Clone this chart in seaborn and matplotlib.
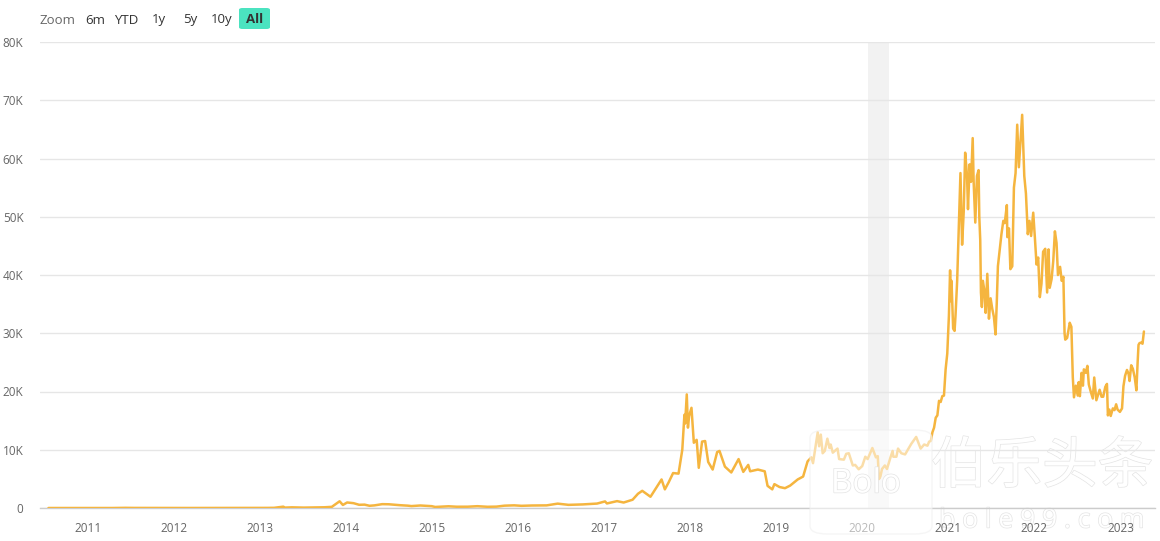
import numpy as np
import pandas as pd
import matplotlib
matplotlib.use("Agg")
import matplotlib.pyplot as plt
import matplotlib.patheffects as pe
from matplotlib.patches import FancyBboxPatch
import seaborn as sns

# ---------------- data ----------------
dates_2010_2016 = [
    "2010-07-17", "2010-10-01", "2011-01-01", "2011-02-10", "2011-04-15", "2011-06-08",
    "2011-07-15", "2011-10-20", "2011-12-31", "2012-03-01", "2012-06-01", "2012-08-17",
    "2012-12-31", "2013-02-01", "2013-03-01", "2013-04-09", "2013-04-16", "2013-05-15",
    "2013-07-05", "2013-08-15", "2013-10-01", "2013-11-01", "2013-11-18", "2013-12-04",
    "2013-12-18", "2014-01-05", "2014-02-01", "2014-02-25", "2014-03-20", "2014-04-10",
    "2014-05-01", "2014-06-03", "2014-07-01", "2014-08-18", "2014-09-20", "2014-10-05",
    "2014-11-12", "2014-12-30", "2015-01-14", "2015-02-15", "2015-03-12", "2015-04-15",
    "2015-06-01", "2015-07-12", "2015-08-24", "2015-10-01", "2015-11-04", "2015-12-15",
    "2016-01-15", "2016-03-01", "2016-05-01", "2016-06-17", "2016-08-02", "2016-10-01",
    "2016-12-01",
]
prices_2010_2016 = [
    0.05, 0.06, 0.3, 1.0, 1.0, 29,
    14, 2.5, 4.7, 5, 5.3, 13,
    13.5, 20, 33, 230, 70, 115,
    70, 100, 125, 200, 700, 1150,
    520, 950, 830, 550, 580, 380,
    450, 660, 640, 480, 400, 330,
    430, 315, 180, 235, 295, 220,
    225, 310, 210, 237, 400, 455,
    375, 430, 450, 750, 540, 615,
    760,
]
dates_2017_2020 = [
    "2017-01-04", "2017-01-12", "2017-02-24", "2017-03-24", "2017-05-01", "2017-05-24",
    "2017-06-11", "2017-07-16", "2017-08-05", "2017-09-01", "2017-09-15", "2017-10-01",
    "2017-10-20", "2017-11-12", "2017-11-28", "2017-12-07", "2017-12-10", "2017-12-17",
    "2017-12-22", "2017-12-27", "2018-01-06", "2018-01-16", "2018-01-28", "2018-02-06",
    "2018-02-20", "2018-03-05", "2018-03-18", "2018-04-06", "2018-04-25", "2018-05-05",
    "2018-05-28", "2018-06-24", "2018-07-25", "2018-08-14", "2018-09-04", "2018-09-12",
    "2018-10-15", "2018-11-13", "2018-11-25", "2018-12-15", "2018-12-24", "2019-01-15",
    "2019-02-07", "2019-03-01", "2019-04-02", "2019-04-25", "2019-05-14", "2019-05-30",
    "2019-06-06", "2019-06-26", "2019-07-02", "2019-07-09", "2019-07-17", "2019-07-26",
    "2019-08-06", "2019-08-15", "2019-08-20", "2019-08-29", "2019-09-18", "2019-09-25",
    "2019-10-15", "2019-10-25", "2019-11-05", "2019-11-22", "2019-12-02", "2019-12-17",
    "2020-01-01", "2020-01-14", "2020-01-24", "2020-02-13", "2020-02-28", "2020-03-07",
    "2020-03-12", "2020-03-18", "2020-03-25", "2020-04-06", "2020-04-15", "2020-04-30",
    "2020-05-09", "2020-05-12", "2020-05-25", "2020-06-01", "2020-06-15", "2020-07-01",
    "2020-07-27", "2020-08-17", "2020-09-05", "2020-09-20", "2020-10-04",
]
prices_2017_2020 = [
    1130, 780, 1180, 940, 1420, 2450,
    2950, 1930, 3200, 4900, 3200, 4400,
    6000, 5900, 10000, 16000, 14500, 19500,
    13800, 15800, 17200, 11200, 11700, 6900,
    11400, 11500, 7900, 6600, 9600, 9800,
    7100, 6100, 8400, 6200, 7400, 6300,
    6600, 6300, 3800, 3200, 4100, 3600,
    3400, 3850, 4900, 5400, 8000, 8700,
    7700, 13000, 10600, 12600, 9400, 9800,
    11900, 10300, 10900, 9500, 10200, 8400,
    8300, 9300, 9400, 7300, 7400, 6650,
    7200, 8800, 8400, 10300, 8700, 8900,
    4970, 5400, 6700, 7300, 6700, 8700,
    9800, 8800, 8800, 10200, 9400, 9200,
    11000, 12200, 10200, 10900, 10700,
]
dates_2020_2023 = [
    "2020-10-11", "2020-10-18", "2020-10-25", "2020-11-01", "2020-11-08", "2020-11-15",
    "2020-11-22", "2020-11-29", "2020-12-06", "2020-12-13", "2020-12-20", "2020-12-27",
    "2021-01-03", "2021-01-08", "2021-01-11", "2021-01-14", "2021-01-21", "2021-01-27",
    "2021-01-31", "2021-02-07", "2021-02-14", "2021-02-21", "2021-02-28", "2021-03-07",
    "2021-03-13", "2021-03-21", "2021-03-25", "2021-04-01", "2021-04-07", "2021-04-14",
    "2021-04-18", "2021-04-25", "2021-05-02", "2021-05-09", "2021-05-12", "2021-05-16",
    "2021-05-19", "2021-05-23", "2021-05-27", "2021-06-02", "2021-06-08", "2021-06-15",
    "2021-06-22", "2021-06-29", "2021-07-06", "2021-07-13", "2021-07-20", "2021-07-25",
    "2021-07-30", "2021-08-07", "2021-08-14", "2021-08-22", "2021-08-28", "2021-09-06",
    "2021-09-08", "2021-09-15", "2021-09-21", "2021-09-29", "2021-10-06", "2021-10-13",
    "2021-10-20", "2021-10-27", "2021-11-03", "2021-11-10", "2021-11-16", "2021-11-19",
    "2021-11-26", "2021-12-04", "2021-12-11", "2021-12-18", "2021-12-27", "2022-01-03",
    "2022-01-10", "2022-01-17", "2022-01-24", "2022-01-31", "2022-02-07", "2022-02-16",
    "2022-02-24", "2022-03-02", "2022-03-07", "2022-03-15", "2022-03-22", "2022-03-29",
    "2022-04-05", "2022-04-11", "2022-04-20", "2022-04-27", "2022-05-04", "2022-05-09",
    "2022-05-12", "2022-05-20", "2022-05-31", "2022-06-07", "2022-06-13", "2022-06-18",
    "2022-06-26", "2022-07-04", "2022-07-08", "2022-07-13", "2022-07-20", "2022-07-26",
    "2022-07-30", "2022-08-07", "2022-08-14", "2022-08-20", "2022-08-28", "2022-09-06",
    "2022-09-12", "2022-09-21", "2022-09-28", "2022-10-05", "2022-10-13", "2022-10-20",
    "2022-10-29", "2022-11-05", "2022-11-09", "2022-11-15", "2022-11-21", "2022-11-30",
    "2022-12-07", "2022-12-14", "2022-12-20", "2022-12-30", "2023-01-08", "2023-01-14",
    "2023-01-21", "2023-01-29", "2023-02-05", "2023-02-09", "2023-02-16", "2023-02-23",
    "2023-03-03", "2023-03-10", "2023-03-15", "2023-03-19", "2023-03-23", "2023-03-30",
    "2023-04-05", "2023-04-11",
]
prices_2020_2023 = [
    11400, 11500, 13000, 13800, 15500, 15900,
    18400, 18200, 19200, 19300, 23800, 26500,
    33000, 40800, 35500, 39000, 30800, 30400,
    33000, 39000, 48000, 57500, 45200, 51000,
    61000, 57000, 51300, 59000, 56000, 63500,
    56000, 49000, 57000, 58000, 50000, 46000,
    37000, 34500, 39000, 37500, 33500, 40200,
    32500, 36000, 34200, 32800, 29800, 35000,
    41500, 44500, 47000, 49300, 48900, 52000,
    46500, 48000, 41000, 41500, 55000, 57500,
    65800, 58500, 62900, 67500, 60300, 57000,
    54000, 47000, 49300, 46700, 50700, 46400,
    41800, 43000, 36200, 38500, 44000, 44500,
    37000, 44400, 37800, 39300, 42400, 47500,
    45500, 40000, 41400, 39000, 39700, 30000,
    28900, 29200, 31800, 31100, 22400, 19000,
    21000, 19300, 21600, 19200, 23200, 21000,
    23800, 23200, 24400, 21200, 20000, 18800,
    22400, 18500, 19400, 20300, 19100, 19100,
    20800, 21300, 15900, 16900, 15800, 17100,
    16800, 17800, 16900, 16500, 17100, 20900,
    22700, 23700, 23000, 21800, 24500, 23900,
    22400, 20200, 24800, 28000, 28300, 28400,
    28200, 30300,
]
band_start, band_end = "2020-01-26", "2020-04-22"
y_ticks = [0, 10000, 20000, 30000, 40000, 50000, 60000, 70000, 80000]
y_labels = ["0", "10K", "20K", "30K", "40K", "50K", "60K", "70K", "80K"]
x_years = list(range(2011, 2024))
buttons = ["6m", "YTD", "1y", "5y", "10y"]

dates = dates_2010_2016 + dates_2017_2020 + dates_2020_2023
prices = prices_2010_2016 + prices_2017_2020 + prices_2020_2023
assert len(dates) == len(prices)
df = pd.DataFrame({"date": pd.to_datetime(dates), "price": prices}).sort_values("date")

# ---------------- figure ----------------
sns.set_theme(style="white")
plt.rcParams["font.family"] = ["Open Sans", "Noto Sans CJK SC", "DejaVu Sans"]

W, H = 1160, 541
fig = plt.figure(figsize=(W / 100, H / 100), dpi=100)
fig.patch.set_facecolor("white")
L, R, T, B = 40, 1155, 42, 508
ax = fig.add_axes([L / W, 1 - B / H, (R - L) / W, (B - T) / H])
ax.set_zorder(2)
ax.patch.set_alpha(0)

ax.axvspan(pd.Timestamp(band_start), pd.Timestamp(band_end), color="#f2f2f2", zorder=0, lw=0)
sns.lineplot(data=df, x="date", y="price", ax=ax, color="#f5b53f", lw=1.8, zorder=3)

ax.set_xlim(pd.Timestamp("2010-06-11"), pd.Timestamp("2023-05-28"))
ax.set_ylim(0, 80000)
ax.set_xlabel("")
ax.set_ylabel("")

ax.set_yticks(y_ticks)
ax.set_yticklabels(y_labels)
ax.set_xticks([pd.Timestamp(f"{y}-01-01") for y in x_years])
ax.set_xticklabels([str(y) for y in x_years])
ax.grid(axis="y", color="#e6e6e6", lw=1)
ax.grid(axis="x", visible=False)
for s in ["top", "right", "left"]:
    ax.spines[s].set_visible(False)
ax.spines["bottom"].set_color("#cccccc")
ax.spines["bottom"].set_linewidth(1)
ax.tick_params(axis="y", length=0, pad=12, labelsize=8.5, labelcolor="#666666")
ax.tick_params(axis="x", length=7, width=1, color="#cccccc", pad=3,
               labelsize=8.5, labelcolor="#666666", direction="out")

# ---------------- range selector buttons ----------------
def fx(px):
    return px / W

def fy(py):
    return 1 - py / H

fig.text(fx(39), fy(20), "Zoom", ha="left", va="center", fontsize=9.5, color="#666666")
btn_x = [95, 126, 159, 190, 222]
for bx, lab in zip(btn_x, buttons):
    fig.text(fx(bx), fy(20), lab, ha="center", va="center", fontsize=9.5, color="#333333")
fig.patches.append(FancyBboxPatch((fx(239), fy(29)), fx(31), 21 / H,
                                  boxstyle="round,pad=0,rounding_size=0.003",
                                  transform=fig.transFigure, facecolor="#4be3c0",
                                  edgecolor="none", zorder=3))
fig.text(fx(254.5), fy(19.5), "All", ha="center", va="center", fontsize=9.5,
         color="#333333", fontweight="bold", zorder=4)

# ---------------- watermark ----------------
outline = [pe.withStroke(linewidth=1.0, foreground="#e4e4e4")]
# text part of the watermark sits under the chart marks
fig.text(fx(1042), fy(467), "伯乐头条", ha="center", va="center", fontsize=40,
         family=["Noto Sans CJK SC", "DejaVu Sans"], color="white",
         path_effects=outline, zorder=1)
fig.text(fx(1042), fy(521), "b o l e 9 9 . c o m", ha="center", va="center", fontsize=19,
         color="white", path_effects=outline, zorder=1)
# logo box lightens what lies under it
fig.patches.append(FancyBboxPatch((fx(810), fy(534)), fx(122), 104 / H,
                                  boxstyle="round,pad=0,rounding_size=0.015",
                                  transform=fig.transFigure, facecolor="white", alpha=0.55,
                                  edgecolor="#eeeeee", lw=1, zorder=5))
fig.text(fx(866), fy(484), "Bolo", ha="center", va="center", fontsize=24, color="white",
         path_effects=outline, zorder=6)

fig.savefig("out.png", dpi=100, facecolor="white")
